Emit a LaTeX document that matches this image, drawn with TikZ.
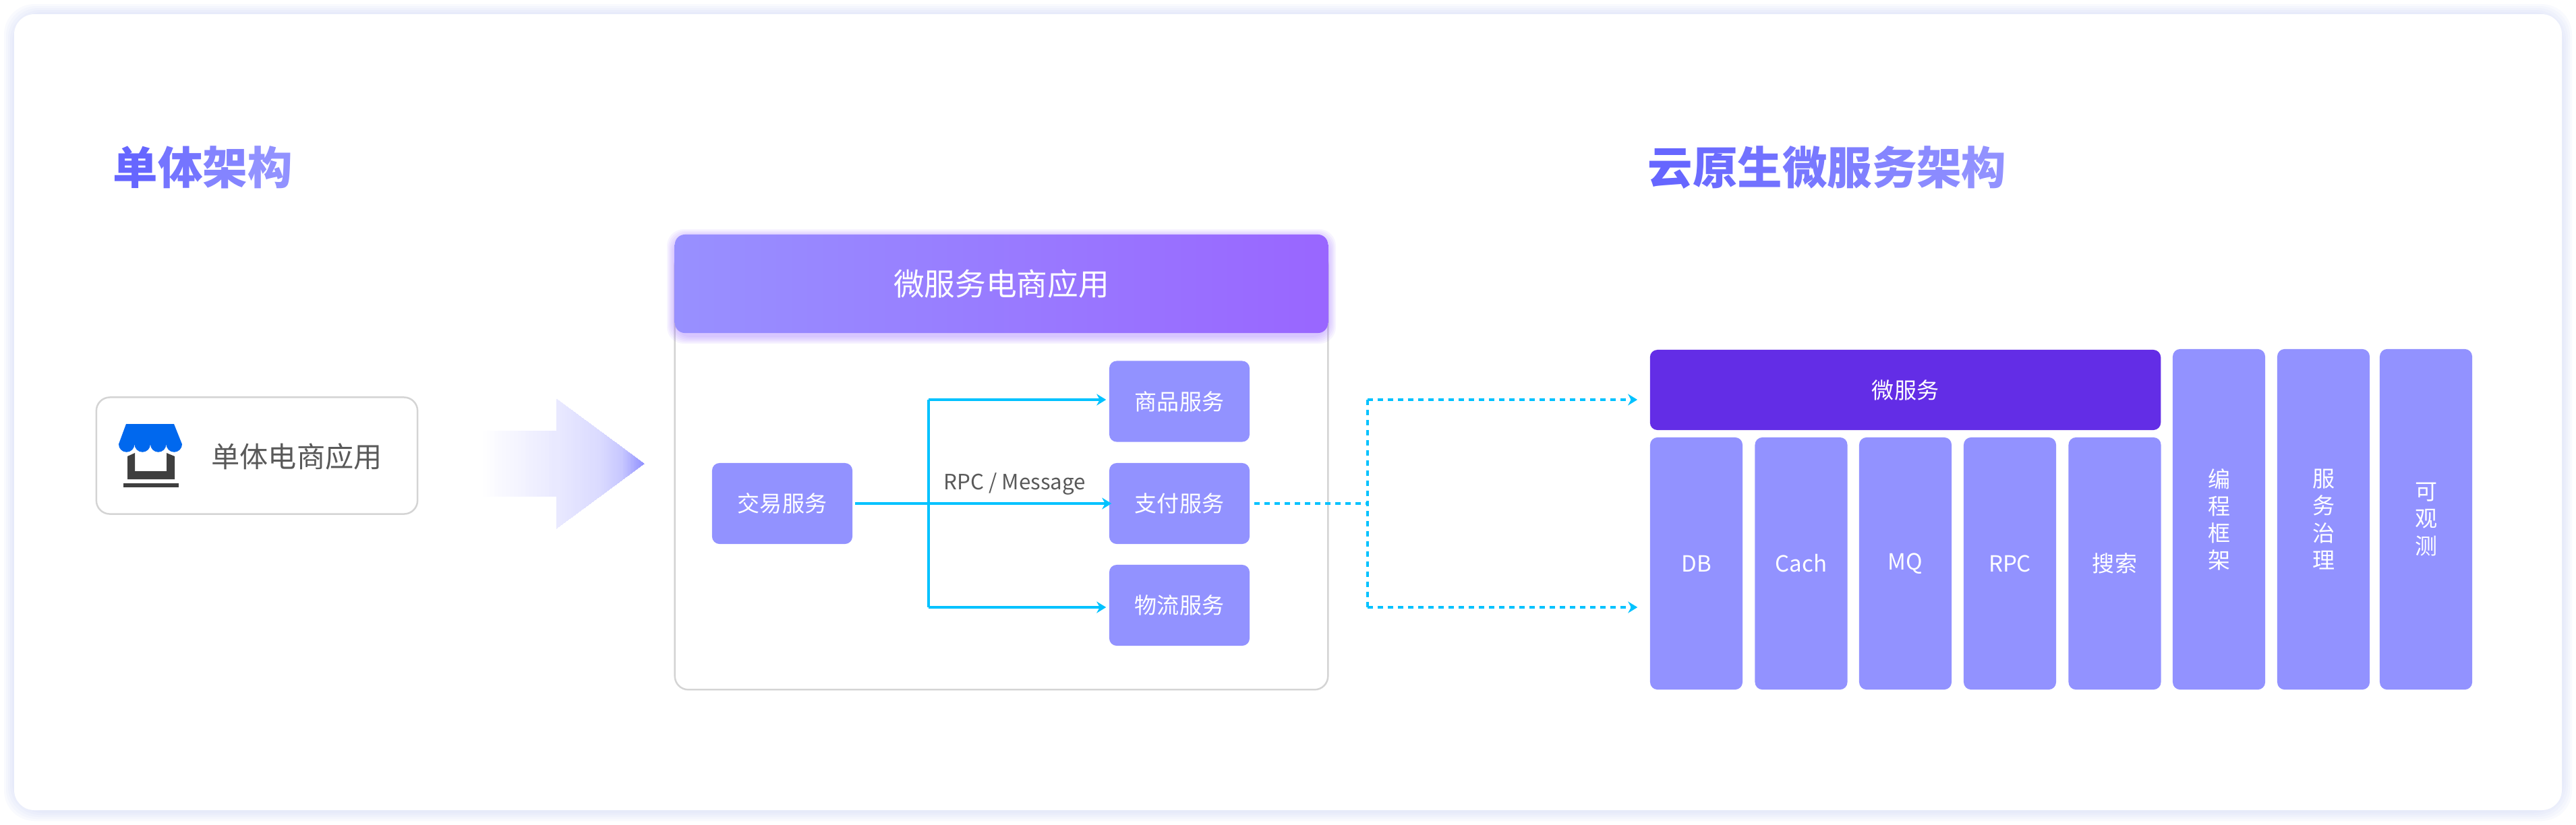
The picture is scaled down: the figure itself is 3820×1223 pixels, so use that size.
\documentclass[tikz,border=0pt]{standalone}
\usepackage{fontspec}
\setmainfont{Noto Sans CJK SC}
\usetikzlibrary{arrows.meta}
\definecolor{cardglow}{HTML}{C4CEF6}
\definecolor{cardline}{HTML}{D4D4D4}
\definecolor{boxviolet}{HTML}{9292FF}
\definecolor{deepviolet}{HTML}{632DE6}
\definecolor{headstart}{HTML}{9890FF}
\definecolor{headviolet}{HTML}{9966FF}
\definecolor{flowcyan}{HTML}{00C2FF}
\definecolor{textgrey}{HTML}{595959}
\definecolor{titlefrom}{HTML}{6666FF}
\definecolor{awningblue}{HTML}{0068EE}
\definecolor{icondark}{HTML}{3F3F3F}
\begin{document}
\begin{tikzpicture}[x=0.01cm, y=-0.01cm, >={Stealth[length=0.14cm,width=0.17cm]},
  svcbox/.style={fill=boxviolet, text=white, rounded corners=0.11cm, inner sep=0pt,
    font=\fontsize{9.4}{11.4}\selectfont, align=center},
  smallbox/.style={svcbox, minimum width=2.08cm, minimum height=1.2cm},
  lowbox/.style={svcbox, minimum width=1.37cm, minimum height=3.74cm},
  sidebox/.style={svcbox, minimum width=1.37cm, minimum height=5.05cm},
  titletext/.style={font=\fontsize{18.9}{22}\selectfont\bfseries, anchor=west, inner sep=0pt},
  flow/.style={->, flowcyan, line width=0.04cm},
  dashflow/.style={flow, dash pattern=on 0.08cm off 0.07cm}]
  \useasboundingbox (0,0) rectangle (3820,1223);

  % card
  \fill[white] (0,0) rectangle (3820,1223);
  \foreach \d in {0,3,...,15}
    \fill[cardglow, opacity=0.09, rounded corners=0.45cm]
      ({6+\d},{6+\d}) rectangle ({3814-\d},{1218-\d});
  \fill[white, rounded corners=0.3cm] (21,21) rectangle (3799,1202);

  % titles
  \node[titletext] (monotitle) at (167,248) {\textcolor{titlefrom}{单}\textcolor{titlefrom!67!boxviolet}{体}\textcolor{titlefrom!33!boxviolet}{架}\textcolor{boxviolet}{构}};
  \node[titletext] (cloudtitle) at (2443,248) {\textcolor{titlefrom}{云}\textcolor{titlefrom!86!boxviolet}{原}\textcolor{titlefrom!72!boxviolet}{生}\textcolor{titlefrom!58!boxviolet}{微}\textcolor{titlefrom!44!boxviolet}{服}\textcolor{titlefrom!30!boxviolet}{务}\textcolor{titlefrom!15!boxviolet}{架}\textcolor{boxviolet}{构}};

  % monolith
  \node[draw=cardline, line width=0.025cm, fill=white, rounded corners=0.2cm,
    minimum width=4.76cm, minimum height=1.73cm, inner sep=0pt] (shopbox) at (381,676) {};
  \node[text=textgrey, font=\fontsize{12}{14}\selectfont, inner sep=0pt] (shoplabel) at (440,677) {单体电商应用};

  % shop icon
  \fill[awningblue] (187,629) -- (258,629) -- (270,659)
    arc[start angle=0, end angle=-180, radius=0.1175cm]
    arc[start angle=0, end angle=-180, radius=0.1175cm]
    arc[start angle=0, end angle=-180, radius=0.1175cm]
    arc[start angle=0, end angle=-180, radius=0.1175cm] -- cycle;
  \fill[icondark] (189,677) -- (200,672) -- (200,699) -- (247,699) -- (247,672)
    -- (259,677) -- (259,711) -- (189,711) -- cycle;
  \fill[icondark] (183,717) rectangle (265,723);

  % big arrow
  \begin{scope}
    \clip (710,639) -- (825,639) -- (825,592) -- (955,688) -- (825,784) -- (825,736) -- (710,736) -- cycle;
    \foreach \xa/\xb/\pa/\pb in {710/825/0/20, 825/888/20/33, 888/921/33/50, 921/955/50/100}
      \foreach \s in {0,...,19} {
        \pgfmathsetmacro{\pct}{\pa+(\pb-\pa)*\s/19}
        \fill[boxviolet!\pct!white] ({\xa+(\xb-\xa)*\s/20},590) rectangle (956,790);
      }
  \end{scope}

  % microservice application
  \node[draw=cardline, line width=0.025cm, fill=white, rounded corners=0.2cm,
    minimum width=9.68cm, minimum height=6.5cm, inner sep=0pt] (appbox) at (1485,698) {};
  \foreach \d in {2,4,...,12}
    \fill[headviolet, opacity=0.07, rounded corners=0.25cm]
      ({1001-\d},{352-\d}) rectangle ({1969+\d},{498+\d});
  \node[left color=headstart, middle color=headstart!90!headviolet, right color=headviolet,
    rounded corners=0.15cm, minimum width=9.68cm, minimum height=1.46cm, inner sep=0pt,
    text=white, font=\fontsize{13}{15}\selectfont] (apphead) at (1485,421) {微服务电商应用};

  \node[smallbox] (tradebox) at (1160,747) {交易服务};
  \node[smallbox] (goodsbox) at (1749,595.5) {商品服务};
  \node[smallbox] (paybox) at (1749,747) {支付服务};
  \node[smallbox] (logibox) at (1749,898) {物流服务};

  % solid flows
  \coordinate (trunkup) at (1376.5,593);
  \coordinate (trunkdown) at (1376.5,901);
  \draw[flowcyan, line width=0.04cm] (trunkup) -- (trunkdown);
  \draw[flow, shorten >=0.04cm] (trunkup) -- (trunkup -| goodsbox.west);
  \draw[flow, shorten >=0.04cm] (trunkdown) -- (trunkdown -| logibox.west);
  \draw[flow, shorten <=0.03cm, shorten >=-0.04cm] (tradebox.east) -- (paybox.west);
  \node[text=textgrey, font=\fontsize{8.9}{10}\selectfont, inner sep=0pt] (rpclabel) at (1505,718) {RPC / Message};

  % dashed flows
  \coordinate (forkmid) at (2027.5,747);
  \coordinate (forkup) at (2027.5,593);
  \coordinate (forkdown) at (2027.5,901);
  \draw[flowcyan, line width=0.04cm, dash pattern=on 0.08cm off 0.07cm, shorten <=0.065cm] (paybox.east) -- (forkmid);
  \draw[flowcyan, line width=0.04cm, dash pattern=on 0.08cm off 0.07cm] (forkup) -- (forkdown);

  % cloud native stack
  \node[svcbox, fill=deepviolet, minimum width=7.57cm, minimum height=1.19cm] (corebox) at (2825.5,578.5) {微服务};
  \node[lowbox] (dbbox) at (2515.5,836) {DB};
  \node[lowbox] (cachbox) at (2671,836) {Cach};
  \node[lowbox] (mqbox) at (2825.5,836) {MQ};
  \node[lowbox] (rpcbox) at (2980.5,836) {RPC};
  \node[lowbox] (searchbox) at (3136,836) {搜索};
  \node[sidebox] (framebox) at (3290.5,770.5) {编\\程\\框\\架};
  \node[sidebox] (govbox) at (3445.5,770.5) {服\\务\\治\\理};
  \node[sidebox] (obsbox) at (3597.5,770.5) {可\\观\\测};

  \draw[dashflow, shorten >=0.18cm] (forkup) -- (forkup -| corebox.west);
  \draw[dashflow, shorten >=0.18cm] (forkdown) -- (forkdown -| dbbox.west);
\end{tikzpicture}
\end{document}
